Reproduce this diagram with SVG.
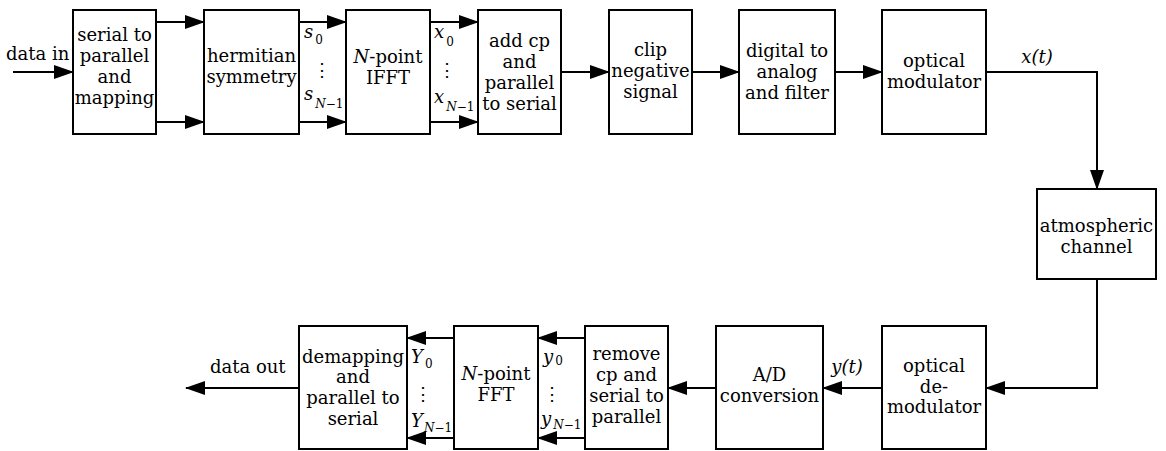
<svg xmlns="http://www.w3.org/2000/svg" width="1166" height="451" viewBox="0 0 1166 451">
<style>
.box{fill:#fff;stroke:#000;stroke-width:2}
.t{font-family:"DejaVu Serif","Liberation Serif",serif;font-size:18px;fill:#000;text-anchor:middle}
.l{font-family:"DejaVu Serif","Liberation Serif",serif;font-size:18px;fill:#000}
.i{font-style:italic}
.sub{font-size:12px}
.c{fill:none;stroke:#000;stroke-width:2}
</style>
<defs>
<marker id="ah" markerUnits="userSpaceOnUse" markerWidth="20" markerHeight="14" refX="19" refY="7" orient="auto"><path d="M0,0 L20,7 L0,14 z" fill="#000"/></marker>
</defs>
<rect width="1166" height="451" fill="#fff"/>
<g id="connectors">
<path class="c" d="M13,72 H73" marker-end="url(#ah)"/>
<path class="c" d="M156,22 H204" marker-end="url(#ah)"/>
<path class="c" d="M156,122 H204" marker-end="url(#ah)"/>
<path class="c" d="M299,22 H346" marker-end="url(#ah)"/>
<path class="c" d="M299,122 H346" marker-end="url(#ah)"/>
<path class="c" d="M430,22 H478" marker-end="url(#ah)"/>
<path class="c" d="M430,122 H478" marker-end="url(#ah)"/>
<path class="c" d="M561,72 H609" marker-end="url(#ah)"/>
<path class="c" d="M692,72 H739" marker-end="url(#ah)"/>
<path class="c" d="M835,72 H882" marker-end="url(#ah)"/>
<path class="c" d="M986,72 H1097 V189" marker-end="url(#ah)"/>
<path class="c" d="M1097,279 V388 H986" marker-end="url(#ah)"/>
<path class="c" d="M882,388 H823" marker-end="url(#ah)"/>
<path class="c" d="M716,388 H668" marker-end="url(#ah)"/>
<path class="c" d="M585,338 H538" marker-end="url(#ah)"/>
<path class="c" d="M585,438 H538" marker-end="url(#ah)"/>
<path class="c" d="M454,338 H407" marker-end="url(#ah)"/>
<path class="c" d="M454,438 H407" marker-end="url(#ah)"/>
<path class="c" d="M299,388 H186" marker-end="url(#ah)"/>
<text class="l" x="6" y="60">data in</text>
<text class="l" x="210" y="373">data out</text>
<text class="t i" x="1037" y="63">x(t)</text>
<text class="t i" x="847" y="373">y(t)</text>
<text class="l i" x="304" y="38">s<tspan class="sub" font-style="normal" dx="2" dy="6">0</tspan></text>
<text class="t" x="322" y="76">⋮</text>
<text class="l i" x="304" y="100">s<tspan class="sub" dx="2" dy="8">N</tspan><tspan class="sub" font-style="normal">−1</tspan></text>
<text class="l i" x="434" y="38">x<tspan class="sub" font-style="normal" dx="2" dy="8">0</tspan></text>
<text class="t" x="447" y="76">⋮</text>
<text class="l i" x="434" y="103">x<tspan class="sub" dx="2" dy="8">N</tspan><tspan class="sub" font-style="normal">−1</tspan></text>
<text class="l i" x="411" y="363">Y<tspan class="sub" font-style="normal" dx="2" dy="5">0</tspan></text>
<text class="t" x="423" y="400">⋮</text>
<text class="l i" x="411" y="427">Y<tspan class="sub" dx="1" dy="5">N</tspan><tspan class="sub" font-style="normal">−1</tspan></text>
<text class="l i" x="543" y="363">y<tspan class="sub" font-style="normal" dx="2" dy="2">0</tspan></text>
<text class="t" x="552" y="400">⋮</text>
<text class="l i" x="541" y="425">y<tspan class="sub" dx="2" dy="4">N</tspan><tspan class="sub" font-style="normal">−1</tspan></text>
</g>
<g id="n1"><rect class="box" x="73" y="10" width="83" height="124"/>
<text class="t" x="114.5" y="41">serial to</text><text class="t" x="114.5" y="62">parallel</text><text class="t" x="114.5" y="83">and</text><text class="t" x="114.5" y="104">mapping</text></g>
<g id="n2"><rect class="box" x="204" y="10" width="95" height="124"/>
<text class="t" x="251.5" y="62">hermitian</text><text class="t" x="251.5" y="83">symmetry</text></g>
<g id="n3"><rect class="box" x="346" y="10" width="84" height="124"/>
<text class="t" x="388" y="63"><tspan class="i">N</tspan>-point</text><text class="t" x="388" y="84">IFFT</text></g>
<g id="n4"><rect class="box" x="478" y="10" width="83" height="124"/>
<text class="t" x="519.5" y="47">add cp</text><text class="t" x="519.5" y="68">and</text><text class="t" x="519.5" y="89">parallel</text><text class="t" x="519.5" y="110">to serial</text></g>
<g id="n5"><rect class="box" x="609" y="10" width="83" height="124"/>
<text class="t" x="650.5" y="56">clip</text><text class="t" x="650.5" y="77">negative</text><text class="t" x="650.5" y="98">signal</text></g>
<g id="n6"><rect class="box" x="739" y="10" width="96" height="124"/>
<text class="t" x="787" y="57">digital to</text><text class="t" x="787" y="78">analog</text><text class="t" x="787" y="99">and filter</text></g>
<g id="n7"><rect class="box" x="882" y="10" width="104" height="124"/>
<text class="t" x="934" y="67">optical</text><text class="t" x="934" y="88">modulator</text></g>
<g id="n8"><rect class="box" x="1037" y="189" width="119" height="90"/>
<text class="t" x="1096.5" y="232">atmospheric</text><text class="t" x="1096.5" y="253">channel</text></g>
<g id="n9"><rect class="box" x="882" y="326" width="104" height="123"/>
<text class="t" x="934" y="372">optical</text><text class="t" x="934" y="393">de-</text><text class="t" x="934" y="413">modulator</text></g>
<g id="n10"><rect class="box" x="716" y="326" width="107" height="123"/>
<text class="t" x="769.5" y="381">A/D</text><text class="t" x="769.5" y="402">conversion</text></g>
<g id="n11"><rect class="box" x="585" y="326" width="83" height="123"/>
<text class="t" x="626.5" y="360">remove</text><text class="t" x="626.5" y="381">cp and</text><text class="t" x="626.5" y="402">serial to</text><text class="t" x="626.5" y="423">parallel</text></g>
<g id="n12"><rect class="box" x="454" y="326" width="84" height="123"/>
<text class="t" x="496" y="380"><tspan class="i">N</tspan>-point</text><text class="t" x="496" y="401">FFT</text></g>
<g id="n13"><rect class="box" x="299" y="326" width="108" height="123"/>
<text class="t" x="353" y="363">demapping</text><text class="t" x="353" y="383">and</text><text class="t" x="353" y="404">parallel to</text><text class="t" x="353" y="425">serial</text></g>
</svg>
